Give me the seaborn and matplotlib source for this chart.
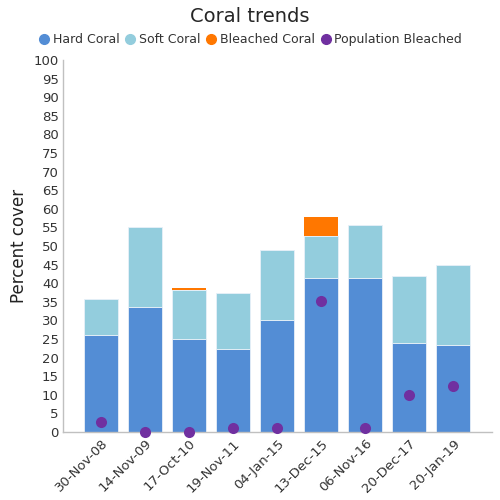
import matplotlib
matplotlib.use("Agg")
import matplotlib.pyplot as plt
import seaborn as sns
import pandas as pd
from matplotlib.lines import Line2D

dates = ["30-Nov-08", "14-Nov-09", "17-Oct-10", "19-Nov-11", "04-Jan-15",
         "13-Dec-15", "06-Nov-16", "20-Dec-17", "20-Jan-19"]
hard_coral = [26.2, 33.6, 25.1, 22.4, 30.0, 41.3, 41.3, 23.8, 23.3]
soft_coral = [9.6, 21.5, 13.1, 15.1, 18.8, 11.3, 14.3, 18.1, 21.7]
bleached_coral = [0, 0, 0.5, 0, 0, 5.1, 0, 0, 0]
population_bleached = [2.6, 0, 0, 1.1, 1.1, 35.1, 1.1, 10.0, 12.5]

df = pd.DataFrame({"date": dates, "hard": hard_coral, "soft": soft_coral,
                   "bleached": bleached_coral, "pop": population_bleached})
df["soft_bottom"] = df["hard"]
df["bleached_bottom"] = df["hard"] + df["soft"]

c_hard = "#538DD5"
c_soft = "#93CDDD"
c_bleached = "#FF7700"
c_pop = "#7030A0"

sns.set_style("white")
fig = plt.figure(figsize=(5, 5), dpi=100)
ax = fig.add_axes([0.126, 0.136, 0.858, 0.744])

w = 0.77
sns.barplot(data=df, x="date", y="hard", color=c_hard, width=w, saturation=1,
            edgecolor="#e8f0f8", linewidth=0.6, ax=ax)
sns.barplot(data=df, x="date", y="soft", bottom=df["soft_bottom"], color=c_soft,
            width=w, saturation=1, edgecolor="#e8f0f8", linewidth=0.6, ax=ax)
sns.barplot(data=df, x="date", y="bleached", bottom=df["bleached_bottom"], color=c_bleached,
            width=w, saturation=1, edgecolor="none", linewidth=0, ax=ax)
sns.stripplot(data=df, x="date", y="pop", color=c_pop, jitter=False, size=8,
              ax=ax, zorder=5, clip_on=False)

ax.set_ylim(0, 100)
ax.set_xlim(-0.86, 8.88)
ax.set_yticks(range(0, 101, 5))
ax.tick_params(axis="y", labelsize=9.5, colors="#333333", length=0, pad=3)
ax.tick_params(axis="x", labelsize=9.5, colors="#333333", length=0)
plt.setp(ax.get_xticklabels(), rotation=45, ha="right", rotation_mode="anchor")
ax.set_xlabel("")
ax.set_ylabel("Percent cover", fontsize=12, color="#222222")
for s in ["top", "right"]:
    ax.spines[s].set_visible(False)
for s in ["left", "bottom"]:
    ax.spines[s].set_color("#c0c0c0")
    ax.spines[s].set_linewidth(1)

fig.suptitle("Coral trends", fontsize=14, y=0.985)
handles = [Line2D([], [], marker="o", linestyle="none", color=c, markersize=7)
           for c in [c_hard, c_soft, c_bleached, c_pop]]
labels = ["Hard Coral", "Soft Coral", "Bleached Coral", "Population Bleached"]
fig.legend(handles, labels, loc="center", bbox_to_anchor=(0.5, 0.921), ncol=4,
           frameon=False, fontsize=9, handletextpad=0.2, columnspacing=0.35,
           handlelength=1.0, labelcolor="#333333")

fig.savefig("out.png", dpi=100)
